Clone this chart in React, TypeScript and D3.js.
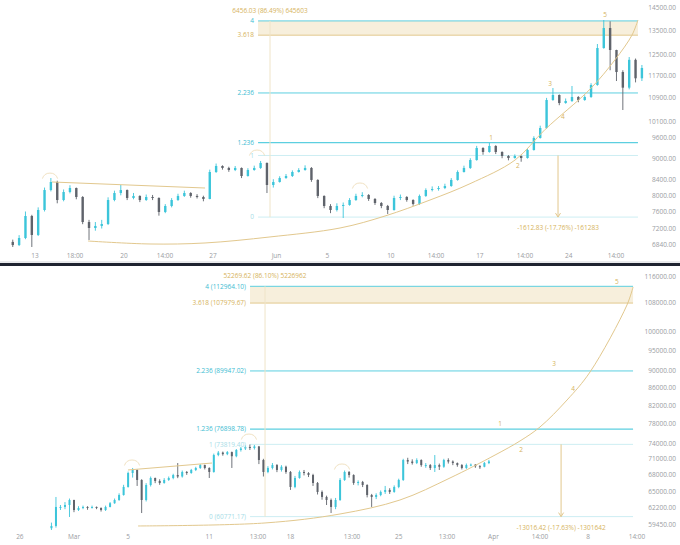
import React from 'react';
import * as d3 from 'd3';

const W = 680;
const H = 545;

// ---- top panel: 12h candles, day 0 = May 13
const topOpen0 = 6900;
const topClose = [
  6832, 6986, 7492, 7054, 7636, 8136, 8346, 7882, 8085, 8188,
  7958, 7350, 7212, 7259, 7304, 7882, 8059, 8136, 7933, 7984,
  7882, 7958, 7933, 7588, 7734, 7882, 7984, 8059, 7984, 7958,
  7908, 8615, 8781, 8726, 8670, 8726, 8506, 8670, 8726, 8866,
  8267, 8346, 8452, 8506, 8615, 8670, 8726, 8400, 7984, 7734,
  7636, 7734, 7759, 7882, 7984, 8009, 7908, 7808, 7734, 7636,
  7933, 7958, 7882, 7784, 7984, 8136, 8162, 8188, 8240, 8400,
  8615, 8726, 8949, 9297, 9180, 9357, 9180, 9064, 9006, 9064,
  9006, 9238, 9598, 9906, 10827, 11001, 10724, 10794, 10932, 10827,
  10932, 11356, 12770, 13608, 12690, 11833, 11260, 12300, 11600, 11986,
];
const topHigh = [
  6950, 7050, 7600, 7520, 7700, 8200, 8452, 8380, 8150, 8260,
  8200, 7980, 7400, 7350, 7400, 7950, 8120, 8267, 8150, 8060,
  8000, 8020, 8010, 7950, 7780, 7930, 8040, 8120, 8080, 8030,
  7990, 8680, 8850, 8800, 8760, 8780, 8740, 8720, 8790, 8922,
  8880, 8420, 8500, 8560, 8660, 8720, 8800, 8750, 8420, 8000,
  7780, 7800, 7820, 7930, 8040, 8080, 8030, 7930, 7830, 7760,
  7990, 8020, 7980, 7900, 8020, 8180, 8230, 8240, 8300, 8450,
  8660, 8790, 9000, 9360, 9320, 9446, 9380, 9200, 9090, 9110,
  9080, 9280, 9650, 9980, 10900, 11248, 11020, 10880, 11320, 10960,
  10990, 11420, 12934, 13958, 13900, 12700, 11900, 12410, 12350, 12100,
];
const topLow = [
  6790, 6810, 6960, 6790, 7030, 7600, 8100, 7800, 7850, 8050,
  7900, 7300, 6943, 7150, 7200, 7280, 7850, 8000, 7880, 7900,
  7830, 7860, 7880, 7500, 7560, 7700, 7860, 7960, 7940, 7920,
  7850, 7900, 8590, 8680, 8620, 8640, 8450, 8490, 8650, 8700,
  8059, 8200, 8330, 8430, 8480, 8600, 8650, 8350, 7930, 7680,
  7560, 7600, 7444, 7740, 7860, 7950, 7860, 7760, 7680, 7540,
  7620, 7880, 7840, 7740, 7760, 7960, 8100, 8120, 8160, 8220,
  8380, 8600, 8700, 8930, 9100, 9160, 9120, 9000, 8940, 8990,
  8900, 8990, 9220, 9580, 9880, 10800, 10650, 10700, 10760, 10750,
  10800, 10900, 11330, 12740, 11900, 11500, 10489, 11200, 11450, 11500,
];
const topPriceTicks = [14500, 13500, 12500, 11700, 10900, 10100, 9600, 9000, 8400, 8000, 7600, 7200, 6840];
const topDateTicks: [number, string][] = [
  [0, '13'], [3.15, '18:00'], [7, '20'], [10.23, '14:00'], [14, '27'], [19, 'Jun'],
  [23, '5'], [28, '10'], [31.55, '14:00'], [35, '17'], [38.55, '14:00'], [42, '24'], [45.71, '14:00'],
];
const topChannel: [number, number][] = [[1.34, 8346], [13.38, 8188]];
const topCurve: [number, number][] = [
  [4.17, 6920], [9.05, 6855], [13.38, 6877], [18.49, 7010], [24.0, 7212], [27.54, 7492],
  [31.08, 7882], [34.22, 8300], [37.77, 8949], [40.13, 9859], [43.67, 11206], [45.63, 12300],
  [46.97, 13303], [47.44, 13958],
];
const topBumps: [number, number][] = [[1.18, 8370], [17.47, 9006], [25.57, 8111]];
const topWaves: [number, number][] = [[35.88, 9598], [38.0, 8781], [40.52, 11391], [41.54, 10259], [44.85, 14181]];

// ---- bottom panel: 8h candles, day 0 = Mar 1
const botOpen0 = 58900;
const botClose = [
  59260, 62370, 62370, 62700, 63550, 61860, 62200, 62370, 62200, 62370,
  62200, 61860, 62370, 63000, 63550, 64410, 65820, 68340, 68900, 67070,
  63550, 66170, 67430, 66890, 66530, 67070, 67430, 67970, 67700, 68530,
  68340, 68900, 69270, 69820, 69270, 68530, 71730, 72200, 71900, 72300,
  71500, 72710, 73000, 73300, 73100, 73400, 70770, 68530, 69270, 69820,
  68900, 69500, 68530, 65820, 67430, 68530, 68340, 67970, 66530, 64940,
  64070, 63550, 62370, 63550, 67070, 68530, 67970, 66530, 66710, 66170,
  64410, 64070, 64410, 64940, 65290, 64940, 65820, 67070, 70770, 70480,
  70200, 70770, 69820, 69820, 69270, 69820, 69500, 70770, 70480, 70200,
  69820, 69270, 69820, 69900, 69600, 69500, 70200, 70500,
];
const botHigh = [
  59800, 64070, 62700, 63200, 63800, 63600, 62500, 62600, 62500, 62600,
  62450, 62300, 62600, 63200, 63800, 64700, 66200, 68600, 69270, 69000,
  67200, 66500, 67700, 67500, 67200, 67400, 67700, 68200, 70200, 68800,
  68700, 69100, 69500, 70000, 69900, 69400, 72000, 72500, 72400, 72500,
  72400, 72900, 73300, 73600, 73800, 73700, 73500, 71000, 69600, 70200,
  70000, 69800, 69700, 68700, 67800, 68800, 68900, 68500, 68200, 66700,
  65200, 64300, 63800, 63900, 67400, 68800, 68700, 68100, 67000, 66900,
  66300, 64600, 64700, 65200, 66000, 65600, 66100, 67300, 71000, 71200,
  70900, 71100, 70900, 70200, 70000, 71730, 70100, 71000, 71100, 70700,
  70300, 70000, 70100, 70100, 70000, 69800, 70400, 70800,
];
const botLow = [
  58620, 59000, 61860, 62000, 60710, 61500, 61700, 62000, 61900, 62100,
  62000, 61600, 61700, 62300, 62900, 63400, 64300, 65700, 67500, 66000,
  61360, 63300, 65900, 66500, 66200, 66400, 66900, 67200, 67400, 67500,
  68000, 68200, 68700, 69100, 69000, 67430, 68400, 71500, 71600, 71700,
  69270, 71300, 72400, 72700, 72700, 72800, 70000, 67700, 68300, 69000,
  68500, 68600, 68200, 65300, 65600, 67300, 67900, 67600, 66000, 64500,
  63600, 62700, 61360, 62000, 63400, 66900, 67500, 66200, 66100, 65800,
  64000, 62370, 63700, 64200, 64600, 64600, 64800, 65600, 66900, 70000,
  69900, 70000, 69500, 69300, 68900, 68530, 68900, 69300, 70100, 69800,
  69500, 69000, 69100, 69600, 69300, 69100, 69400, 70000,
];
const botPriceTicks = [116000, 108000, 100000, 95000, 90000, 86000, 82000, 78000, 74000, 71000, 68000, 65000, 62200, 59450];
const botDateTicks: [number, string][] = [
  [-4, '26'], [0, 'Mar'], [4, '5'], [10, '11'], [13.6, '13:00'], [16, '18'], [20.55, '13:00'],
  [24, '25'], [27.57, '13:00'], [31, 'Apr'], [34.44, '14:00'], [38, '8'], [41.61, '14:00'],
];
const botChannel: [number, number][] = [[3.99, 68900], [10.2, 70200]];
const botCurve: [number, number][] = [
  [4.73, 59260], [14.12, 59740], [19.66, 61200], [24.09, 63550], [27.79, 67430], [31.12, 71730],
  [32.96, 74490], [34.44, 77350], [36.44, 83180], [38.14, 89690], [40.87, 107420], [41.32, 112750],
];
const botBumps: [number, number][] = [[4.29, 69270], [12.93, 74280], [19.81, 68530]];
const botWaves: [number, number][] = [[31.49, 77980], [33.04, 72710], [35.48, 91650], [36.88, 85690], [40.13, 114280]];

// fib extension levels
const fibRatios = [0, 1, 1.236, 2.236, 3.618, 4];
const topFibLabels = ['0', '1', '1.236', '2.236', '3.618', '4'];
const botFibLabels = ['0 (60771.17)', '1 (73819.40)', '1.236 (76898.78)', '2.236 (89947.02)', '3.618 (107979.67)', '4 (112964.10)'];
const waveNames = ['1', '2', '3', '4', '5'];

const CYAN = '#5ccfe0';
const CYAN_TXT = '#3dbcd2';
const PALE = '#cdeef3';
const PALE_TXT = '#a8dde7';
const GOLD = '#e2c88e';
const GOLD_TXT = '#d6b35c';
const UP = '#3cc5da';
const DOWN = '#5f636b';
const AXIS = '#9a9ca2';
const FONT = '"Open Sans", "DejaVu Sans", sans-serif';

const fibLine = [PALE, PALE, CYAN, CYAN, GOLD, CYAN];
const fibText = [PALE_TXT, PALE_TXT, CYAN_TXT, CYAN_TXT, GOLD_TXT, CYAN_TXT];
const fibWidth = [1, 1, 1.3, 1, 1, 1];

type Cfg = {
  id: string;
  top: number;
  bottom: number;
  x: d3.ScaleLinear<number, number>;
  y: d3.ScaleLogarithmic<number, number>;
  open0: number;
  closes: number[];
  highs: number[];
  lows: number[];
  start: number;
  step: number;
  bodyW: number;
  priceTicks: number[];
  dateTicks: [number, string][];
  dateY: number;
  fibBase: number;
  fibRange: number;
  fibLabels: string[];
  fibFrom: number;
  fibTo: number;
  stem: number;
  measure: number;
  topNote: string;
  bottomNote: string;
  channel: [number, number][];
  curve: [number, number][];
  bumps: [number, number][];
  waves: [number, number][];
};

function Panel({ c }: { c: Cfg }) {
  const { x, y } = c;
  const candles = c.closes.map((cl, i) => ({
    t: c.start + i * c.step,
    o: i === 0 ? c.open0 : c.closes[i - 1],
    h: c.highs[i],
    l: c.lows[i],
    c: cl,
  }));
  const straight = d3.line<[number, number]>().x(d => x(d[0])).y(d => y(d[1]));
  const smooth = d3
    .line<[number, number]>()
    .x(d => x(d[0]))
    .y(d => y(d[1]))
    .curve(d3.curveCatmullRom.alpha(0.5));
  const levels = fibRatios.map(r => c.fibBase + r * c.fibRange);
  const x0 = x(c.fibFrom);
  const x1 = x(c.fibTo);
  const mx = x(c.measure);
  const y0 = y(levels[0]);
  const y1 = y(levels[1]);
  const y4 = y(levels[5]);

  return (
    <g>
      <defs>
        <clipPath id={c.id}>
          <rect x={0} y={c.top} width={W} height={c.bottom - c.top} />
        </clipPath>
      </defs>
      <g clipPath={`url(#${c.id})`}>
        <rect x={x0} y={y4} width={x1 - x0} height={y(levels[4]) - y4} fill="#f7efdc" />
        {levels.map((p, i) => (
          <line key={i} x1={x0} x2={x1} y1={y(p)} y2={y(p)} stroke={fibLine[i]} strokeWidth={fibWidth[i]} />
        ))}
        <line x1={x(c.stem)} x2={x(c.stem)} y1={y4} y2={y0} stroke="#efe4c8" strokeWidth={1} />
        {candles.map((d, i) => {
          const cx = x(d.t);
          const up = d.c >= d.o;
          const col = up ? UP : DOWN;
          const yt = y(Math.max(d.o, d.c));
          const yb = y(Math.min(d.o, d.c));
          return (
            <g key={i}>
              <line x1={cx} x2={cx} y1={y(d.h)} y2={y(d.l)} stroke={col} strokeWidth={0.9} />
              <rect x={cx - c.bodyW / 2} y={yt} width={c.bodyW} height={Math.max(1, yb - yt)} fill={col} />
            </g>
          );
        })}
        <path d={straight(c.channel) || ''} fill="none" stroke={GOLD} strokeWidth={1} />
        <path d={smooth(c.curve) || ''} fill="none" stroke={GOLD} strokeWidth={1} />
        {c.bumps.map((b, i) => {
          const p = d3.path();
          const bx = x(b[0]);
          const by = y(b[1]);
          p.arc(bx, by, 8, Math.PI * 1.1, Math.PI * 1.9);
          return <path key={i} d={p.toString()} fill="none" stroke="#ecd9b3" strokeWidth={0.8} />;
        })}
        {c.waves.map((w, i) => (
          <text key={i} x={x(w[0])} y={y(w[1])} dy="0.35em" textAnchor="middle" fontSize={6.5} fill={GOLD_TXT}>
            {waveNames[i]}
          </text>
        ))}
        <line x1={mx} x2={mx} y1={y1} y2={y0} stroke={GOLD} strokeWidth={1} />
        <path d={`M${mx - 2.5},${y0 - 4}L${mx},${y0}L${mx + 2.5},${y0 - 4}`} fill="none" stroke={GOLD} strokeWidth={1} />
      </g>
      {levels.map((p, i) => (
        <text key={i} x={x0 - 4} y={y(p)} dy="0.35em" textAnchor="end" fontSize={6.5} fill={fibText[i]}>
          {c.fibLabels[i]}
        </text>
      ))}
      <text x={x(c.stem)} y={y4 - 8} textAnchor="middle" fontSize={6.5} fill={GOLD_TXT}>
        {c.topNote}
      </text>
      <text x={mx} y={y0 + 13} textAnchor="middle" fontSize={6.5} fill={GOLD_TXT}>
        {c.bottomNote}
      </text>
      {c.priceTicks.map(p => (
        <text key={p} x={676} y={y(p)} dy="0.35em" textAnchor="end" fontSize={6.5} fill={AXIS}>
          {p.toFixed(2)}
        </text>
      ))}
      {c.dateTicks.map(([t, s], i) => (
        <text key={i} x={x(t)} y={c.dateY} textAnchor="middle" fontSize={6.5} fill={AXIS}>
          {s}
        </text>
      ))}
    </g>
  );
}

export default function App() {
  const topCfg: Cfg = {
    id: 'clipTop',
    top: 0,
    bottom: 262,
    x: d3.scaleLinear().domain([0, 42]).range([35, 35 + 12.71 * 42]),
    y: d3.scaleLog().domain([14873, 6474]).range([0, 262]),
    open0: topOpen0,
    closes: topClose,
    highs: topHigh,
    lows: topLow,
    start: -1.75,
    step: 0.5,
    bodyW: 2.4,
    priceTicks: topPriceTicks,
    dateTicks: topDateTicks,
    dateY: 258,
    fibBase: 7466,
    fibRange: 1612.83,
    fibLabels: topFibLabels,
    fibFrom: 17.55,
    fibTo: 47.44,
    stem: 18.49,
    measure: 41.15,
    topNote: '6456.03 (86.49%) 645603',
    bottomNote: '-1612.83 (-17.76%) -161283',
    channel: topChannel,
    curve: topCurve,
    bumps: topBumps,
    waves: topWaves,
  };
  const botCfg: Cfg = {
    id: 'clipBot',
    top: 266,
    bottom: 545,
    x: d3.scaleLinear().domain([0, 38]).range([74, 74 + 13.53 * 38]),
    y: d3.scaleLog().domain([119310, 56300]).range([266, 545]),
    open0: botOpen0,
    closes: botClose,
    highs: botHigh,
    lows: botLow,
    start: -1.667,
    step: 1 / 3,
    bodyW: 2,
    priceTicks: botPriceTicks,
    dateTicks: botDateTicks,
    dateY: 539,
    fibBase: 60771.17,
    fibRange: 13048.23,
    fibLabels: botFibLabels,
    fibFrom: 13.01,
    fibTo: 41.32,
    stem: 14.12,
    measure: 36.0,
    topNote: '52269.62 (86.10%) 5226962',
    bottomNote: '-13016.42 (-17.63%) -1301642',
    channel: botChannel,
    curve: botCurve,
    bumps: botBumps,
    waves: botWaves,
  };

  return (
    <svg
      width={W}
      height={H}
      style={{ position: 'absolute', left: 0, top: 0, background: '#fff' }}
      fontFamily={FONT}
    >
      <rect width={W} height={H} fill="#fff" />
      <Panel c={topCfg} />
      <rect x={0} y={261.5} width={W} height={1} fill="#d4d6da" />
      <rect x={0} y={263} width={W} height={3} fill="#1f2430" />
      <Panel c={botCfg} />
    </svg>
  );
}
